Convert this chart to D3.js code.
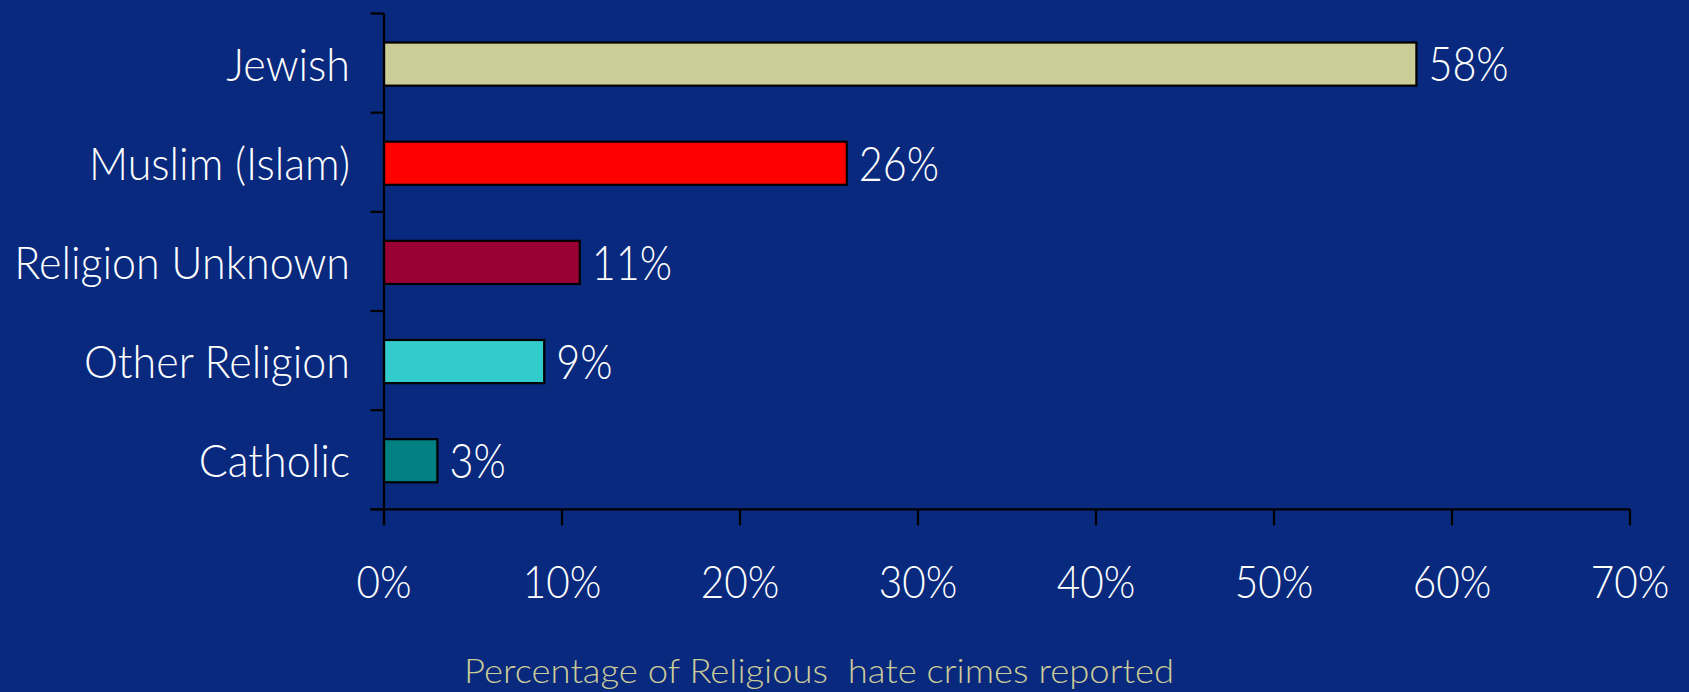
<!DOCTYPE html>
<html><head><meta charset="utf-8">
<script src="https://cdn.jsdelivr.net/npm/d3@7/dist/d3.min.js"></script>
<style>
html,body{margin:0;padding:0;background:#08297d;}
svg{display:block;}
text{font-family:Lato,"Open Sans",sans-serif;font-weight:300;}
</style></head>
<body><svg id="c" width="1689" height="692"></svg>
<script>
const categories = ["Jewish","Muslim (Islam)","Religion Unknown","Other Religion","Catholic"];
const values = [58,26,11,9,3];
const colors = ["#cccc99","#ff0000","#990033","#33cccc","#008080"];
const xTicks = [0,10,20,30,40,50,60,70];
const xTitle = "Percentage of Religious  hate crimes reported";

(function(){
const svg = d3.select("#c");
svg.append("rect").attr("width",1689).attr("height",692).attr("fill","#08297d");

const mL = 384, mR = 1630, mT = 13.5, mB = 509.3;
const x = d3.scaleLinear().domain([0,70]).range([mL,mR]);
const pad = 0.565;
const y = d3.scaleBand().domain(categories).range([mT,mB]).paddingInner(pad).paddingOuter(pad/2);
const step = y.step();
const kCat = 0.935, kNum = 0.88;

// bars
svg.selectAll("rect.bar").data(categories).join("rect")
  .attr("class","bar")
  .attr("x",x(0))
  .attr("y",d=>y(d)+1)
  .attr("width",(d,i)=>x(values[i])-x(0))
  .attr("height",y.bandwidth())
  .attr("fill",(d,i)=>colors[i])
  .attr("stroke","#000").attr("stroke-width",2.2);

// axes
const g = svg.append("g").attr("stroke","#000").attr("stroke-width",2.2);
g.append("line").attr("x1",mL).attr("x2",mL).attr("y1",mT).attr("y2",mB+16);
g.append("line").attr("x1",mL-13.5).attr("x2",mR).attr("y1",mB).attr("y2",mB);
const bounds = d3.range(categories.length+1).map(i=>mT+i*step);
g.selectAll("line.yt").data(bounds).join("line").attr("class","yt")
  .attr("x1",mL-13.5).attr("x2",mL).attr("y1",d=>d).attr("y2",d=>d);
g.selectAll("line.xt").data(xTicks).join("line").attr("class","xt")
  .attr("x1",d=>x(d)).attr("x2",d=>x(d)).attr("y1",mB).attr("y2",mB+16);

// category labels
svg.selectAll("text.cat").data(categories).join("text").attr("class","cat")
  .attr("transform",d=>`translate(350,${y(d)+y.bandwidth()/2+1}) scale(${kCat},1)`)
  .attr("dy","0.36em")
  .attr("text-anchor","end").attr("fill","#fff").attr("font-size",46)
  .text(d=>d);

// x tick labels
svg.selectAll("text.xl").data(xTicks).join("text").attr("class","xl")
  .attr("transform",d=>`translate(${x(d)},598) scale(${kNum},1)`)
  .attr("text-anchor","middle").attr("fill","#fff").attr("font-size",46)
  .text(d=>d+"%");

// value labels
svg.selectAll("text.val").data(categories).join("text").attr("class","val")
  .attr("transform",(d,i)=>`translate(${x(values[i])+12},${y(d)+y.bandwidth()/2+1}) scale(${kNum},1)`)
  .attr("dy","0.37em")
  .attr("fill","#fff").attr("font-size",47)
  .text((d,i)=>values[i]+"%");

// title
svg.append("text").attr("x",819).attr("y",683).attr("text-anchor","middle")
  .style("white-space","pre")
  .attr("textLength",710).attr("lengthAdjust","spacingAndGlyphs")
  .attr("fill","#cccc99").attr("font-size",33).text(xTitle);
})();
</script></body></html>
